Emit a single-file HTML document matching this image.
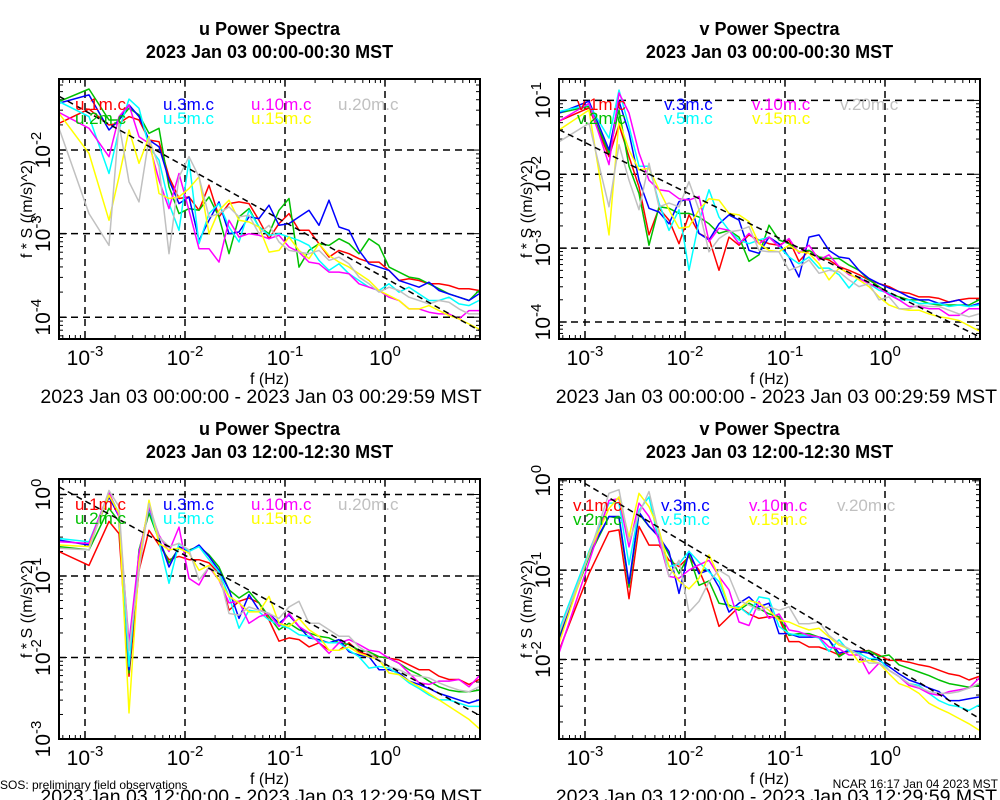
<!DOCTYPE html>
<html><head><meta charset="utf-8"><style>
html,body{margin:0;padding:0;background:#fff;}
svg{display:block;font-family:"Liberation Sans",Arial,sans-serif;}
</style></head><body>
<svg id="chart" width="1000" height="800" viewBox="0 0 1000 800" xmlns="http://www.w3.org/2000/svg"></svg>
<script>
// frequencies, log10(Hz)
const freqLog = [-3.26,-2.96,-2.76,-2.66,-2.56,-2.46,-2.36,-2.26,-2.16,-2.06,-1.96,-1.86,-1.76,-1.66,-1.56,-1.46,-1.36,-1.26,-1.16,-1.06,-0.96,-0.86,-0.76,-0.66,-0.56,-0.46,-0.36,-0.26,-0.16,-0.06,0.04,0.14,0.24,0.34,0.44,0.54,0.64,0.74,0.84,0.94];
const seriesNames = ["1m","2m","3m","5m","10m","15m","20m"];
const seriesColors = ["#ff0000","#00c000","#0000ff","#00ffff","#ff00ff","#ffff00","#c0c0c0"];
const refSlope = -2/3;
const refIntercepts = [-3.53,-3.57,-2.08,-2.03];
const xTickExps = [-3,-2,-1,0];
const yTickExpsP1 = [-2,-3,-4];
const yTickExpsP2 = [-1,-2,-3,-4];
const yTickExpsP3 = [0,-1,-2,-3];
const yTickExpsP4 = [0,-1,-2];

// log10 of f*S, panel 1 (u, 00:00)
const u1_1m = [-1.68,-1.51,-1.7,-1.68,-1.6,-1.64,-1.88,-1.9,-2.32,-2.58,-2.56,-2.72,-2.42,-2.8,-2.64,-2.62,-2.64,-2.84,-3.06,-2.88,-2.76,-2.96,-2.96,-3.12,-3.28,-3.2,-3.24,-3.3,-3.34,-3.34,-3.44,-3.56,-3.54,-3.56,-3.6,-3.6,-3.62,-3.66,-3.66,-3.68];
const u1_2m = [-1.42,-1.27,-1.64,-1.64,-1.5,-1.58,-1.8,-1.74,-2.44,-2.76,-2.7,-2.72,-2.56,-2.8,-3.24,-2.8,-2.7,-2.92,-3.0,-2.72,-2.58,-3.4,-3.2,-3.12,-3.14,-3.06,-3.12,-3.24,-3.06,-3.14,-3.4,-3.46,-3.52,-3.54,-3.6,-3.66,-3.72,-3.76,-3.8,-3.68];
const u1_3m = [-1.44,-1.34,-1.76,-1.64,-1.46,-1.6,-1.88,-1.96,-2.36,-2.64,-2.56,-3.08,-2.84,-2.62,-3.0,-2.98,-2.8,-2.82,-2.66,-2.9,-2.88,-2.8,-2.72,-2.9,-2.6,-2.92,-2.96,-3.2,-3.36,-3.4,-3.44,-3.56,-3.6,-3.64,-3.58,-3.68,-3.72,-3.76,-3.8,-3.72];
const u1_5m = [-1.42,-1.6,-2.28,-1.76,-1.39,-1.5,-1.96,-2.12,-2.64,-2.96,-2.12,-3.12,-2.76,-2.64,-2.92,-3.1,-2.72,-2.92,-3.02,-3.0,-3.04,-3.08,-3.14,-3.32,-3.44,-3.36,-3.48,-3.56,-3.64,-3.68,-3.6,-3.7,-3.64,-3.72,-3.8,-3.8,-3.76,-3.84,-3.86,-3.8];
const u1_10m = [-1.55,-1.74,-2.08,-1.6,-1.46,-1.84,-1.92,-2.36,-2.7,-2.28,-2.72,-3.18,-3.18,-3.34,-2.84,-3.04,-3.0,-3.02,-3.06,-3.02,-3.16,-3.22,-3.34,-3.36,-3.46,-3.46,-3.48,-3.6,-3.64,-3.68,-3.76,-3.8,-3.9,-3.9,-3.94,-3.96,-3.96,-4.02,-3.92,-3.92];
const u1_15m = [-1.56,-2.04,-2.84,-2.32,-1.76,-2.16,-1.84,-2.52,-2.58,-2.56,-2.46,-2.32,-3.0,-2.72,-2.6,-2.84,-2.86,-2.92,-3.22,-3.2,-3.04,-3.2,-3.3,-3.12,-3.26,-3.34,-3.4,-3.48,-3.56,-3.68,-3.74,-3.8,-3.9,-3.9,-3.86,-3.92,-3.98,-4.02,-4.08,-4.14];
const u1_20m = [-1.74,-2.76,-3.14,-1.68,-2.38,-2.62,-1.86,-2.2,-3.24,-2.32,-2.08,-2.32,-2.8,-2.76,-2.68,-2.8,-2.78,-3.0,-2.9,-3.1,-3.2,-3.22,-3.24,-3.2,-3.32,-3.28,-3.36,-3.52,-3.6,-3.7,-3.64,-3.68,-3.76,-3.8,-3.84,-3.8,-3.82,-3.9,-3.96,-3.96];

// panel 2 (v, 00:00)
const v1_1m = [-1.28,-1.1,-1.76,-1.33,-1.76,-2.17,-2.82,-2.46,-2.62,-2.94,-2.55,-2.8,-2.87,-3.3,-2.85,-2.96,-2.82,-2.89,-2.94,-2.96,-2.89,-3.18,-3.03,-3.12,-3.16,-3.25,-3.3,-3.36,-3.43,-3.48,-3.52,-3.59,-3.61,-3.66,-3.66,-3.68,-3.73,-3.7,-3.68,-3.68];
const v1_2m = [-1.17,-1.08,-1.71,-1.13,-1.89,-2.26,-2.96,-2.44,-2.46,-2.53,-2.53,-2.58,-2.67,-2.8,-2.76,-2.85,-3.18,-3.09,-2.69,-2.89,-2.94,-3.05,-3.03,-3.12,-3.14,-3.14,-3.23,-3.3,-3.43,-3.52,-3.61,-3.66,-3.7,-3.7,-3.75,-3.77,-3.77,-3.77,-3.77,-3.7];
const v1_3m = [-1.17,-1.01,-1.67,-1.01,-1.44,-2.08,-2.46,-2.51,-2.67,-2.37,-2.33,-2.8,-2.89,-2.67,-2.55,-2.62,-3.03,-3.07,-2.85,-2.94,-3.12,-3.39,-2.85,-2.82,-3.03,-3.12,-3.14,-3.3,-3.41,-3.48,-3.54,-3.59,-3.66,-3.7,-3.7,-3.75,-3.73,-3.7,-3.79,-3.75];
const v1_5m = [-1.15,-1.06,-1.51,-0.86,-1.35,-1.89,-1.89,-2.39,-2.76,-2.48,-3.3,-2.64,-2.21,-2.58,-2.76,-2.89,-2.94,-2.89,-2.85,-2.98,-3.12,-3.21,-3.12,-3.27,-3.27,-3.36,-3.54,-3.39,-3.48,-3.57,-3.61,-3.7,-3.7,-3.75,-3.75,-3.75,-3.79,-3.77,-3.79,-3.77];
const v1_10m = [-1.28,-1.04,-1.87,-0.9,-1.17,-1.71,-2.08,-2.21,-2.23,-2.33,-2.35,-2.3,-2.91,-2.73,-2.76,-2.94,-2.8,-2.94,-2.85,-2.98,-2.87,-3.07,-2.96,-3.16,-3.09,-3.25,-3.36,-3.41,-3.48,-3.54,-3.63,-3.7,-3.79,-3.79,-3.82,-3.82,-3.91,-3.91,-3.82,-3.82];
const v1_15m = [-1.4,-1.13,-2.82,-1.28,-1.67,-1.94,-1.92,-2.21,-2.48,-2.73,-2.71,-2.48,-2.33,-2.35,-2.53,-2.55,-2.64,-2.94,-3.03,-3.05,-2.96,-3.05,-3.07,-3.21,-3.43,-3.27,-3.34,-3.43,-3.52,-3.66,-3.77,-3.82,-3.84,-3.84,-3.89,-3.93,-3.95,-3.98,-4.05,-4.12];
const v1_20m = [-1.56,-1.31,-2.44,-1.6,-2.08,-2.48,-1.85,-2.44,-2.39,-2.44,-2.1,-2.48,-3.05,-2.87,-2.78,-2.76,-2.71,-3.03,-3.05,-3.05,-3.3,-3.25,-3.16,-3.34,-3.3,-3.32,-3.43,-3.52,-3.48,-3.7,-3.66,-3.82,-3.82,-3.77,-3.79,-3.79,-3.84,-3.89,-3.93,-3.89];

// panel 3 (u, 12:00)
const u2_1m = [-0.7,-0.87,-0.33,-0.48,-2.23,-0.93,-0.44,-0.62,-0.8,-0.76,-0.8,-0.8,-0.84,-0.97,-1.42,-1.31,-1.27,-1.33,-1.54,-1.8,-1.76,-1.78,-1.87,-1.82,-1.91,-1.91,-1.82,-1.93,-1.97,-1.99,-2.01,-2.03,-2.09,-2.15,-2.15,-2.23,-2.27,-2.27,-2.33,-2.27];
const u2_2m = [-0.64,-0.68,-0.17,-0.33,-2.19,-0.68,-0.23,-0.56,-0.84,-0.66,-0.68,-0.64,-0.74,-0.89,-1.17,-1.27,-1.19,-1.33,-1.5,-1.66,-1.58,-1.66,-1.7,-1.74,-1.76,-1.82,-1.84,-1.91,-1.93,-1.99,-2.01,-2.07,-2.15,-2.21,-2.29,-2.36,-2.4,-2.42,-2.42,-2.4];
const u2_3m = [-0.56,-0.62,-0.03,-0.27,-2.15,-0.72,-0.17,-0.54,-0.89,-0.64,-0.7,-0.62,-0.76,-0.93,-1.17,-1.52,-1.23,-1.42,-1.46,-1.58,-1.48,-1.62,-1.76,-1.78,-1.82,-1.78,-1.93,-1.97,-1.99,-2.15,-2.15,-2.19,-2.29,-2.33,-2.38,-2.44,-2.48,-2.52,-2.56,-2.52];
const u2_5m = [-0.54,-0.58,0.01,-0.23,-2.11,-0.72,-0.15,-0.58,-1.09,-0.6,-0.7,-0.64,-0.8,-0.95,-1.25,-1.64,-1.42,-1.44,-1.54,-1.6,-1.64,-1.72,-1.74,-1.8,-1.82,-1.82,-1.91,-1.99,-2.13,-2.11,-2.13,-2.21,-2.31,-2.38,-2.46,-2.52,-2.52,-2.56,-2.6,-2.6];
const u2_10m = [-0.58,-0.6,0.03,-0.27,-1.82,-0.72,-0.15,-0.5,-0.7,-0.4,-1.03,-1.11,-0.89,-1.05,-1.33,-1.31,-1.58,-1.5,-1.46,-1.62,-1.46,-1.62,-1.7,-1.82,-1.95,-1.82,-1.78,-1.84,-1.91,-1.93,-2.01,-2.07,-2.19,-2.31,-2.33,-2.29,-2.29,-2.27,-2.36,-2.23];
const u2_15m = [-0.62,-0.64,-0.01,-0.23,-2.68,-0.84,-0.07,-0.6,-0.68,-0.66,-0.72,-0.93,-0.87,-1.05,-1.25,-1.33,-1.44,-1.44,-1.25,-1.58,-1.62,-1.52,-1.66,-1.74,-1.91,-1.91,-1.87,-1.95,-1.99,-2.03,-2.19,-2.21,-2.29,-2.36,-2.44,-2.52,-2.6,-2.68,-2.76,-2.87];
const u2_20m = [-0.66,-0.68,0.05,-0.15,-1.91,-0.93,-0.11,-0.52,-0.64,-0.6,-0.68,-1.05,-0.89,-0.97,-1.46,-1.48,-1.38,-1.42,-1.46,-1.52,-1.38,-1.31,-1.58,-1.58,-1.66,-1.74,-1.74,-1.87,-1.95,-2.03,-2.11,-2.15,-2.21,-2.23,-2.25,-2.31,-2.36,-2.4,-2.42,-2.36];

// panel 4 (v, 12:00)
const v2_1m = [-1.9,-1.04,-0.57,-0.55,-1.32,-0.51,-0.72,-0.72,-0.89,-0.96,-0.85,-1.0,-1.26,-1.63,-1.52,-1.41,-1.49,-1.54,-1.52,-1.54,-1.8,-1.8,-1.86,-1.86,-1.9,-1.95,-1.91,-1.91,-1.9,-1.95,-2.01,-2.01,-2.03,-2.06,-2.08,-2.12,-2.16,-2.18,-2.23,-2.19];
const v2_2m = [-1.75,-0.85,-0.4,-0.42,-1.19,-0.37,-0.51,-0.61,-0.83,-1.04,-0.83,-1.17,-1.12,-1.37,-1.39,-1.45,-1.37,-1.43,-1.49,-1.52,-1.73,-1.71,-1.71,-1.75,-1.78,-1.97,-1.9,-1.93,-1.9,-1.97,-1.95,-2.06,-2.1,-2.14,-2.18,-2.23,-2.27,-2.29,-2.31,-2.29];
const v2_3m = [-1.78,-0.81,-0.4,-0.4,-1.15,-0.35,-0.51,-0.63,-0.79,-1.26,-0.79,-1.04,-1.0,-1.19,-1.47,-1.37,-1.3,-1.41,-1.37,-1.71,-1.71,-1.75,-1.75,-1.75,-1.78,-1.93,-1.9,-1.91,-1.93,-2.01,-2.08,-2.16,-2.23,-2.27,-2.32,-2.36,-2.46,-2.46,-2.44,-2.42];
const v2_5m = [-1.67,-0.79,-0.25,-0.25,-0.94,-0.33,-0.18,-0.68,-0.96,-0.93,-0.79,-0.91,-1.02,-1.13,-1.41,-1.41,-1.5,-1.3,-1.32,-1.63,-1.71,-1.73,-1.73,-1.76,-1.91,-1.78,-1.91,-1.93,-1.99,-1.99,-2.12,-2.19,-2.27,-2.29,-2.38,-2.46,-2.51,-2.53,-2.57,-2.51];
const v2_10m = [-1.93,-0.91,-0.22,-0.2,-0.74,-0.25,-0.4,-0.66,-1.07,-1.09,-1.0,-0.94,-0.89,-1.07,-1.22,-1.58,-1.62,-1.35,-1.54,-1.49,-1.67,-1.69,-1.73,-1.75,-1.86,-1.88,-1.95,-1.95,-2.16,-2.04,-2.12,-2.19,-2.29,-2.32,-2.38,-2.4,-2.36,-2.34,-2.32,-2.21];
const v2_15m = [-1.82,-0.81,-0.31,-0.18,-0.63,-0.14,-0.29,-0.55,-0.96,-1.12,-1.21,-1.09,-0.83,-1.07,-1.41,-1.43,-1.34,-1.37,-1.45,-1.56,-1.58,-1.63,-1.67,-1.65,-1.75,-1.84,-1.88,-2.03,-2.01,-2.04,-2.16,-2.27,-2.31,-2.38,-2.49,-2.55,-2.6,-2.66,-2.72,-2.79];
const v2_20m = [-1.71,-0.83,-0.14,-0.1,-0.68,-0.37,-0.12,-0.59,-1.07,-0.89,-1.47,-1.35,-1.13,-1.0,-1.07,-1.34,-1.39,-1.45,-1.41,-1.45,-1.41,-1.6,-1.6,-1.58,-1.73,-1.82,-1.88,-1.95,-2.04,-2.04,-2.12,-2.19,-2.27,-2.31,-2.36,-2.38,-2.38,-2.36,-2.32,-2.27];

const NS = "http://www.w3.org/2000/svg";
const svg = document.getElementById("chart");
function mk(tag, attrs, parent) {
  const e = document.createElementNS(NS, tag);
  for (const k in attrs) e.setAttribute(k, attrs[k]);
  (parent || svg).appendChild(e);
  return e;
}

const panels = [
  {key:"u-top", comp:"u", x0:59, x1:480, y0:79, y1:339, dec:85, yTop:-1.15, yBot:-4.26, yTicks:yTickExpsP1, series:[u1_1m,u1_2m,u1_3m,u1_5m,u1_10m,u1_15m,u1_20m], title:"u Power Spectra", sub:"2023 Jan 03 00:00-00:30 MST", range:"2023 Jan 03 00:00:00 - 2023 Jan 03 00:29:59 MST", ty:0, legX:[75,163,251,338], legY:[110,124]},
  {key:"v-top", comp:"v", x0:559, x1:980, y0:79, y1:339, dec:585, yTop:-0.71, yBot:-4.23, yTicks:yTickExpsP2, series:[v1_1m,v1_2m,v1_3m,v1_5m,v1_10m,v1_15m,v1_20m], title:"v Power Spectra", sub:"2023 Jan 03 00:00-00:30 MST", range:"2023 Jan 03 00:00:00 - 2023 Jan 03 00:29:59 MST", ty:0, legX:[577,664,752,840], legY:[110,124]},
  {key:"u-bottom", comp:"u", x0:59, x1:480, y0:479, y1:739, dec:85, yTop:0.19, yBot:-3.0, yTicks:yTickExpsP3, series:[u2_1m,u2_2m,u2_3m,u2_5m,u2_10m,u2_15m,u2_20m], title:"u Power Spectra", sub:"2023 Jan 03 12:00-12:30 MST", range:"2023 Jan 03 12:00:00 - 2023 Jan 03 12:29:59 MST", ty:400, legX:[75,163,251,338], legY:[510,524]},
  {key:"v-bottom", comp:"v", x0:559, x1:980, y0:479, y1:739, dec:585, yTop:0.02, yBot:-2.89, yTicks:yTickExpsP4, series:[v2_1m,v2_2m,v2_3m,v2_5m,v2_10m,v2_15m,v2_20m], title:"v Power Spectra", sub:"2023 Jan 03 12:00-12:30 MST", range:"2023 Jan 03 12:00:00 - 2023 Jan 03 12:29:59 MST", ty:400, legX:[573,661,749,837], legY:[511,525]}
];

panels.forEach((p, pi) => {
  const g = mk("g", {});
  
  
  const xs = lf => p.dec + (lf + 3) * 100;
  const ys = lv => p.y0 + (p.yTop - lv) / (p.yTop - p.yBot) * (p.y1 - p.y0);
  const cx = (p.x0 + p.x1) / 2, cy = (p.y0 + p.y1) / 2;

  const t1 = mk("text", {x:cx, y:35 + p.ty, "text-anchor":"middle", "font-size":18, "font-weight":"bold"}, g);
  t1.textContent = p.title;
  
  
  const t2 = mk("text", {x:cx, y:58 + p.ty, "text-anchor":"middle", "font-size":18, "font-weight":"bold"}, g);
  t2.textContent = p.sub;
  
  

  const defs = mk("defs", {}, g);
  const cp = mk("clipPath", {id:"clip" + pi}, defs);
  mk("rect", {x:p.x0, y:p.y0, width:p.x1 - p.x0, height:p.y1 - p.y0}, cp);

  const grid = mk("g", {stroke:"#000", "stroke-width":1.5, "stroke-dasharray":"7,5"}, g);
  
  
  xTickExps.forEach(e => { const x = xs(e); mk("line", {x1:x, x2:x, y1:p.y0, y2:p.y1}, grid); });
  p.yTicks.forEach(e => { const y = ys(e); if (y > p.y0 + 2 && y < p.y1 - 2) mk("line", {x1:p.x0, x2:p.x1, y1:y, y2:y}, grid); });

  const tk = mk("g", {stroke:"#000", "stroke-width":1}, g);
  
  
  for (let d = -4; d <= 1; d++) for (let m = 1; m < 10; m++) {
    const lf = d + Math.log10(m); const x = xs(lf);
    if (x <= p.x0 || x >= p.x1) continue;
    const L = m === 1 ? 8 : 4;
    mk("line", {x1:x, x2:x, y1:p.y1, y2:p.y1 - L}, tk);
    mk("line", {x1:x, x2:x, y1:p.y0, y2:p.y0 + L}, tk);
  }
  for (let d = -5; d <= 1; d++) for (let m = 1; m < 10; m++) {
    const lv = d + Math.log10(m); const y = ys(lv);
    if (y <= p.y0 || y >= p.y1) continue;
    const L = m === 1 ? 8 : 4;
    mk("line", {x1:p.x0, x2:p.x0 + L, y1:y, y2:y}, tk);
    mk("line", {x1:p.x1, x2:p.x1 - L, y1:y, y2:y}, tk);
  }

  const sg = mk("g", {"clip-path":"url(#clip" + pi + ")", fill:"none", "stroke-width":1.5, "stroke-linejoin":"round"}, g);
  p.series.forEach((vals, si) => {
    const d = vals.map((v, i) => (i ? "L" : "M") + xs(freqLog[i]).toFixed(1) + "," + ys(v).toFixed(1)).join("");
    const path = mk("path", {d:d, stroke:seriesColors[si]}, sg);
    
    
  });
  const lfa = freqLog[0], lfb = freqLog[freqLog.length - 1];
  const ref = mk("line", {x1:xs(lfa), y1:ys(refIntercepts[pi] + refSlope * lfa), x2:xs(lfb), y2:ys(refIntercepts[pi] + refSlope * lfb), stroke:"#000", "stroke-width":1.5, "stroke-dasharray":"6,4"}, sg);
  
  

  const fr = mk("rect", {x:p.x0, y:p.y0, width:p.x1 - p.x0, height:p.y1 - p.y0, fill:"none", stroke:"#000", "stroke-width":2}, g);
  
  

  xTickExps.forEach(e => {
    const t = mk("text", {x:xs(e), y:365 + p.ty, "text-anchor":"middle", "font-size":21}, g);
    t.appendChild(document.createTextNode("10"));
    const sp = mk("tspan", {dy:-9, "font-size":15}, t); sp.textContent = String(e);
    
    
  });
  p.yTicks.forEach(e => {
    const y = ys(e);
    const t = mk("text", {transform:"translate(" + (p.x0 - 9) + "," + y + ") rotate(-90)", "text-anchor":"middle", "font-size":21}, g);
    t.appendChild(document.createTextNode("10"));
    const sp = mk("tspan", {dy:-9, "font-size":15}, t); sp.textContent = String(e);
    
    
  });
  const xl = mk("text", {x:cx, y:384 + p.ty, "text-anchor":"middle", "font-size":16}, g);
  xl.textContent = "f (Hz)";
  
  
  const yl = mk("text", {transform:"translate(" + (p.x0 - 27) + "," + cy + ") rotate(-90)", "text-anchor":"middle", "font-size":16}, g);
  yl.textContent = "f * S ((m/s)^2)";
  
  
  const rg = mk("text", {x:(pi % 2 ? 997 : 261), y:403 + p.ty, "text-anchor":(pi % 2 ? "end" : "middle"), "font-size":19.5}, g);
  rg.textContent = p.range;
  
  

  const order = [[0,0],[1,0],[0,1],[1,1],[0,2],[1,2],[0,3]];
  order.forEach((rc, si) => {
    const t = mk("text", {x:p.legX[rc[1]], y:p.legY[rc[0]], "font-size":17, fill:seriesColors[si]}, g);
    t.textContent = p.comp + "." + seriesNames[si] + ".c";
    
    
  });
});

const f1 = mk("text", {x:0, y:789, "font-size":12});
f1.textContent = "SOS: preliminary field observations";


const f2 = mk("text", {x:998, y:788, "font-size":12, "text-anchor":"end"});
f2.textContent = "NCAR 16:17 Jan 04 2023 MST";


</script>
</body></html>
